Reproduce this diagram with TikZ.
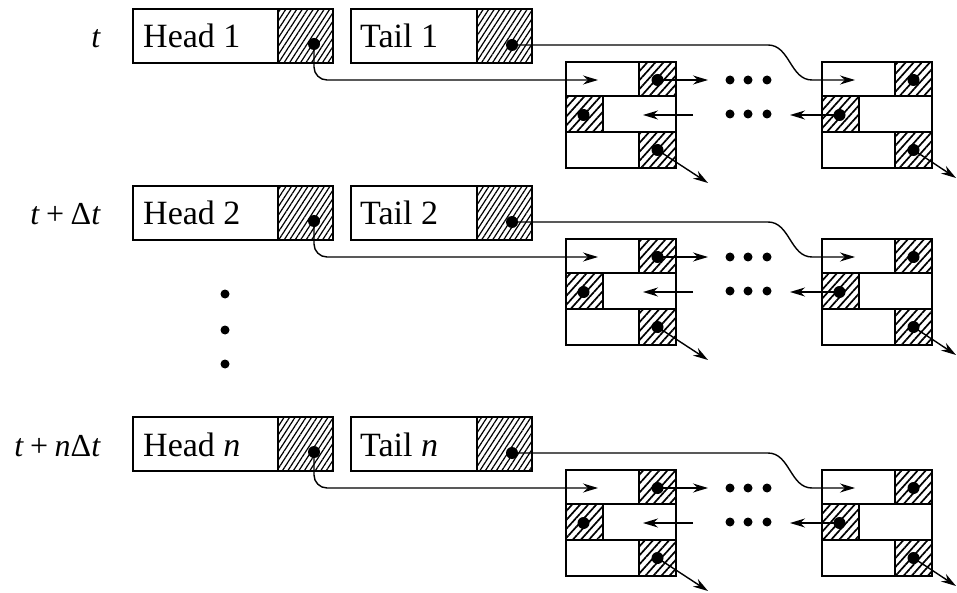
\documentclass[tikz,border=0pt]{standalone}
\usepackage{fontspec}
\setmainfont{Liberation Serif}
\usetikzlibrary{arrows.meta,patterns.meta}
\newcommand\plussp{\hspace{0.2em}+\hspace{0.2em}}
\tikzset{
  box/.style={draw, line width=1.7pt, inner sep=0pt, outer sep=0pt, anchor=north west},
  hatchH/.style={box, pattern={Lines[angle=57,distance=4.6pt,line width=1.2pt]}},
  hatchC/.style={box, pattern={Lines[angle=48,distance=6pt,line width=1.7pt]}},
  ptr/.style={circle, fill, inner sep=0pt, minimum size=12pt},
  edot/.style={circle, fill, inner sep=0pt, minimum size=9pt},
  lbl/.style={font=\fontsize{34}{40}\selectfont, inner sep=0pt, anchor=base west},
  rlbl/.style={font=\fontsize{32}{38}\selectfont, inner sep=0pt, anchor=base east},
  arr/.style={line width=1.4pt, -{Stealth[length=15pt,width=9pt]}},
}
\begin{document}
\begin{tikzpicture}[x=1pt,y=-1pt]
\useasboundingbox (0,0) rectangle (957,593);
\foreach \r/\dy/\lab/\hn in {1/0/{\textit{t}}/1, 2/177/{\textit{t}\plussp Δ\textit{t}}/2, 3/408/{\textit{t}\plussp\textit{n}Δ\textit{t}}/{\textit{n}}} {
  % row label
  \node[rlbl] (L\r) at (101,48+\dy) {\lab};
  % head record
  \node[box, minimum width=145pt, minimum height=54pt] (hw\r) at (133,9+\dy) {};
  \node[hatchH, minimum width=55pt, minimum height=54pt] (hh\r) at (278,9+\dy) {};
  \node[lbl] (ht\r) at (143,48+\dy) {Head \hn};
  % tail record
  \node[box, minimum width=126pt, minimum height=54pt] (tw\r) at (351,9+\dy) {};
  \node[hatchH, minimum width=55pt, minimum height=54pt] (th\r) at (477,9+\dy) {};
  \node[lbl] (tt\r) at (360,48+\dy) {Tail \hn};
  % list elements
  \foreach \nx/\nm in {566/A,822/B} {
    \node[box, minimum width=73pt, minimum height=34pt] (\nm w1\r) at (\nx,62+\dy) {};
    \node[hatchC, minimum width=37pt, minimum height=34pt] (\nm h1\r) at (\nx+73,62+\dy) {};
    \node[hatchC, minimum width=37pt, minimum height=36pt] (\nm h2\r) at (\nx,96+\dy) {};
    \node[box, minimum width=73pt, minimum height=36pt] (\nm w2\r) at (\nx+37,96+\dy) {};
    \node[box, minimum width=73pt, minimum height=36pt] (\nm w3\r) at (\nx,132+\dy) {};
    \node[hatchC, minimum width=37pt, minimum height=36pt] (\nm h3\r) at (\nx+73,132+\dy) {};
    \node[ptr] (\nm p1\r) at (\nx+91.5,80+\dy) {};
    \node[ptr] (\nm p2\r) at (\nx+17.5,115+\dy) {};
    \node[ptr] (\nm p3\r) at (\nx+91.5,150+\dy) {};
  }
  % pointer dots in head / tail
  \node[ptr] (hd\r) at (314,44+\dy) {};
  \node[ptr] (td\r) at (512,45+\dy) {};
  % ellipsis dots
  \foreach \ex in {730,748,767} {
    \node[edot] (eu\ex\r) at (\ex,80+\dy) {};
    \node[edot] (el\ex\r) at (\ex,114+\dy) {};
  }
  % connectors
  \coordinate (hend\r) at (598,80+\dy);
  \draw[arr, rounded corners=13pt] (hd\r.center) |- (hend\r);
  \coordinate (tk1\r) at (768,45+\dy);
  \coordinate (tk2\r) at (812,80+\dy);
  \coordinate (tend\r) at (855,80+\dy);
  \draw[arr] (td\r.center) -- (tk1\r) to[out=0,in=180] (tk2\r) -- (tend\r);
  \coordinate (a1e\r) at (708,80+\dy);
  \draw[arr] (Ap1\r.center) -- (a1e\r);
  \coordinate (a2s\r) at (693,115+\dy);
  \coordinate (a2e\r) at (643,115+\dy);
  \draw[arr] (a2s\r) -- (a2e\r);
  \coordinate (a3e\r) at (708,183+\dy);
  \draw[arr] (Ap3\r.center) -- (a3e\r);
  \coordinate (b2e\r) at (790,115+\dy);
  \draw[arr] (Bp2\r.center) -- (b2e\r);
  \coordinate (b3e\r) at (956,178+\dy);
  \draw[arr] (Bp3\r.center) -- (b3e\r);
}
% vertical ellipsis
\node[edot] (v1) at (225,294) {};
\node[edot] (v2) at (225,330) {};
\node[edot] (v3) at (225,364) {};
\end{tikzpicture}
\end{document}
